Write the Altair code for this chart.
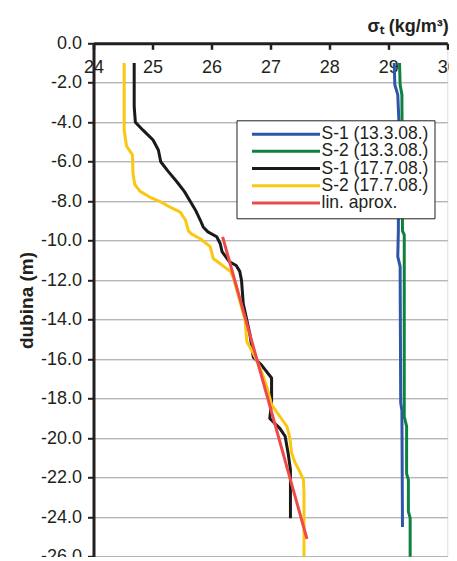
import altair as alt
import pandas as pd

series_names = ["S-1 (13.3.08.)", "S-2 (13.3.08.)", "S-1 (17.7.08.)", "S-2 (17.7.08.)", "lin. aprox."]
series_colors = ["#2f56a6", "#0e8040", "#1a1a1a", "#fac712", "#ef4a4a"]
series_widths = [3, 3, 3, 3, 5.5]

# S-1 (13.3.08.)
blue_d = [-1.0, -2.1, -2.6, -4.0, -9.5, -10.8, -11.3, -18.2, -18.6, -24.5]
blue_v = [29.10, 29.11, 29.16, 29.18, 29.17, 29.16, 29.20, 29.21, 29.23, 29.24]

# S-2 (13.3.08.)
green_d = [-1.0, -2.1, -2.6, -9.5, -9.7, -18.9, -19.4, -21.8, -22.1, -23.7, -24.05, -26.0]
green_v = [29.19, 29.20, 29.23, 29.24, 29.27, 29.27, 29.31, 29.31, 29.34, 29.34, 29.37, 29.37]

# S-1 (17.7.08.)
black_d = [-1.0, -3.2, -4.0, -4.4, -4.9, -5.4, -6.0, -6.5, -7.0, -7.5, -8.0, -8.45, -8.95,
           -9.3, -9.55, -9.8, -10.15, -10.55, -11.05, -11.25, -11.55, -12.0, -13.2, -14.7,
           -15.9, -16.3, -16.95, -18.15, -19.0, -19.5, -19.9, -20.75, -21.6, -24.05]
black_v = [24.69, 24.69, 24.71, 24.84, 25.01, 25.10, 25.14, 25.27, 25.41, 25.54, 25.64, 25.73, 25.81,
           25.86, 25.94, 26.09, 26.15, 26.18, 26.30, 26.42, 26.48, 26.51, 26.54, 26.65,
           26.71, 26.85, 27.02, 27.02, 26.99, 27.16, 27.25, 27.30, 27.34, 27.34]

# S-2 (17.7.08.)
yellow_d = [-1.0, -4.4, -5.2, -5.65, -6.6, -7.15, -7.5, -7.8, -8.0, -8.3, -8.55, -8.95, -9.5,
            -9.65, -9.9, -10.3, -10.9, -11.55, -11.85, -14.0, -15.1, -15.7, -16.4, -17.4,
            -18.3, -18.9, -19.4, -20.0, -20.75, -21.25, -21.7, -22.1, -22.8, -26.0]
yellow_v = [24.52, 24.52, 24.56, 24.66, 24.67, 24.70, 24.79, 24.96, 25.12, 25.30, 25.47, 25.56, 25.61,
            25.66, 25.81, 25.98, 26.03, 26.32, 26.37, 26.57, 26.60, 26.71, 26.82, 26.94,
            27.02, 27.16, 27.28, 27.33, 27.36, 27.42, 27.50, 27.56, 27.57, 27.57]

# lin. aprox.
red_d = [-9.8, -25.1]
red_v = [26.19, 27.62]

x_ticks = [24, 25, 26, 27, 28, 29, 30]
y_ticks = [0, -2, -4, -6, -8, -10, -12, -14, -16, -18, -20, -22, -24, -26]

rows = []
for name, vs, ds in zip(series_names,
                        [blue_v, green_v, black_v, yellow_v, red_v],
                        [blue_d, green_d, black_d, yellow_d, red_d]):
    for i, (v, d) in enumerate(zip(vs, ds)):
        rows.append({"series": name, "sigma": v, "depth": d, "idx": i})
df = pd.DataFrame(rows)

W, H = 353.8, 513.4
INK = "#231f20"
FONT = "Liberation Sans"

legend_common = dict(
    title=None, orient="none", legendX=143, legendY=77,
    symbolType="stroke", symbolSize=4624, clipHeight=15.7, rowPadding=-1.8,
    symbolOffset=8, labelOffset=0,
    labelFont=FONT, labelFontSize=17.5, labelColor=INK,
    strokeColor=INK, fillColor="white", padding=6, cornerRadius=0,
    symbolOpacity=1,
)

chart = alt.Chart(df).mark_line(strokeJoin="round").encode(
    x=alt.X("sigma:Q",
            scale=alt.Scale(domain=[24, 30], nice=False, zero=False),
            axis=alt.Axis(orient="bottom", offset=-H, values=x_ticks, format="d",
                          grid=False, labelFlush=False, labelFontSize=18, labelPadding=9,
                          labelColor=INK, labelFont=FONT,
                          domainColor=INK, domainWidth=3, tickColor=INK, tickSize=6, tickWidth=2.5,
                          title="σₜ (kg/m³)", titleX=W + 1, titleY=-12, titleAlign="right",
                          titleBaseline="alphabetic", titleFontSize=18, titleFontWeight="bold",
                          titleColor=INK, titleFont=FONT)),
    y=alt.Y("depth:Q",
            scale=alt.Scale(domain=[-26, 0], nice=False, zero=False),
            axis=alt.Axis(values=y_ticks, labelExpr="replace(format(datum.value, '.1f'), '\u2212', '-')",
                          grid=True, gridColor="#999999", gridWidth=1,
                          labelFlush=False, labelFontSize=18, labelPadding=6, labelColor=INK, labelFont=FONT,
                          domainColor=INK, domainWidth=3, tickColor=INK, tickSize=6, tickWidth=2,
                          title="dubina (m)", titleFontSize=19, titleFontWeight="bold",
                          titleColor=INK, titleFont=FONT, titlePadding=4)),
    color=alt.Color("series:N", scale=alt.Scale(domain=series_names, range=series_colors),
                    legend=alt.Legend(**legend_common)),
    strokeWidth=alt.StrokeWidth("series:N", scale=alt.Scale(domain=series_names, range=series_widths),
                                legend=alt.Legend(**legend_common)),
    order=alt.Order("idx:Q"),
).properties(
    width=W, height=H,
    padding={"left": 85.5, "top": 35.3, "right": 1.7, "bottom": 0},
    autosize=alt.AutoSizeParams(type="none"),
).configure_view(stroke="#999999", strokeWidth=1).configure(font=FONT)

chart.save("out.html", embed_options={"renderer": "svg", "actions": False})
